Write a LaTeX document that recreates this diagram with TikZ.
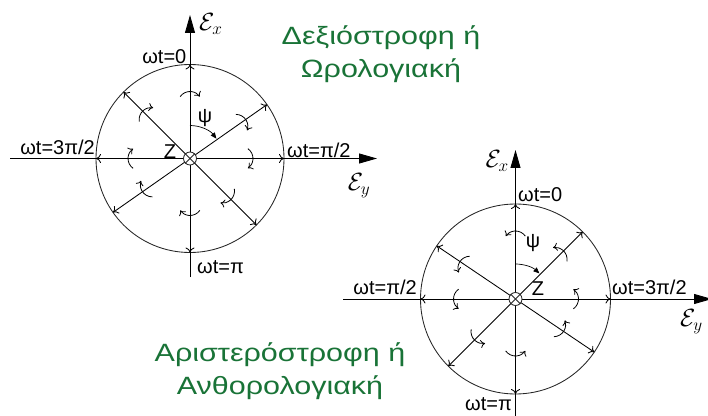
\documentclass[tikz,border=0pt]{standalone}
\usepackage{fontspec}
\setmainfont{Liberation Sans}
\usetikzlibrary{arrows.meta}
\definecolor{greentxt}{RGB}{25,115,55}
\begin{document}
\begin{tikzpicture}[x=1pt,y=1pt,
  ring/.style={line width=0.85pt, black!85},
  axisline/.style={line width=0.9pt, -{Triangle[length=18pt,width=10pt]}},
  dbl/.style={line width=0.85pt, {To[length=5pt,width=9pt]}-{To[length=5pt,width=9pt]}},
  rot/.style={line width=0.8pt, -{To[length=4.5pt,width=8pt]}},
  psiarc/.style={line width=0.7pt, -{Triangle[length=6pt,width=5pt]}},
  lbl/.style={font=\fontsize{20}{23}\selectfont, inner sep=1pt},
  ttl/.style={font=\fontsize{25}{33}\selectfont, text=greentxt, align=center, xscale=1.22},
  mth/.style={font=\fontsize{24}{28}\selectfont, inner sep=1pt}
]
\useasboundingbox (0,0) rectangle (708,415);
\clip (0,0) rectangle (708,415);
% ---------------- left diagram ----------------
\coordinate (L) at (190,256.5);
\coordinate (LW) at (10,256.5);
\coordinate (LE) at (377,256.5);
\coordinate (LS) at (190,138);
\coordinate (LN) at (190,400);
\draw[ring] (L) circle (94);
\draw[axisline] (LW) -- (LE);
\draw[axisline] (LS) -- (LN);
\begin{scope}[shift={(L)}]
  \foreach \a in {0,90,35,135}
    \draw[dbl] (\a:94) -- ({\a+180}:94);
  \foreach \a/\r in {90/67,35/68,0/63,-45/58,-90/57,-145/58,180/62,135/67}
    \draw[rot, shift={(\a:{\r-12})}] ({\a+55}:12) arc[start angle={\a+55}, end angle={\a-55}, radius=12];
  \draw[psiarc] (90:33) arc[start angle=90, end angle=37, radius=33];
\end{scope}
\node[ring, draw, fill=white, circle, minimum size=13pt, inner sep=0pt] (LC) at (L) {};
\draw[ring] (LC.north east) -- (LC.south west);
\draw[ring] (LC.north west) -- (LC.south east);
\node[lbl, anchor=east] (l0) at (187.5,358) {ωt=0};
\node[lbl, anchor=east] (l3) at (96,268) {ωt=3π/2};
\node[lbl, anchor=west] (l1) at (286,265) {ωt=π/2};
\node[lbl, anchor=west] (l2) at (196,148) {ωt=π};
\node[mth, anchor=west] (lex) at (198,391) {$\mathcal{E}_x$};
\node[mth] (ley) at (359,229) {$\mathcal{E}_y$};
\node[lbl] (lz) at (170,263) {Z};
\node[lbl] (lpsi) at (205,297) {ψ};
\node[ttl] (t1) at (381,361) {Δεξιόστροφη ή\\Ωρολογιακή};
% ---------------- right diagram ----------------
\coordinate (R) at (515.5,116);
\coordinate (RW) at (343,116);
\coordinate (RE) at (712,116);
\coordinate (RS) at (515.5,-5);
\coordinate (RN) at (515.5,265);
\draw[ring] (R) circle (95);
\draw[axisline] (RW) -- (RE);
\draw[axisline] (RS) -- (RN);
\begin{scope}[shift={(R)}]
  \foreach \a in {0,90,45,146}
    \draw[dbl] (\a:95) -- ({\a+180}:95);
  \foreach \a/\r in {90/68,45/68,0/63,-34/58,-90/57,-135/58,180/62,146/67}
    \draw[rot, shift={(\a:{\r-12})}] ({\a-55}:12) arc[start angle={\a-55}, end angle={\a+55}, radius=12];
  \draw[psiarc] (90:35) arc[start angle=90, end angle=47, radius=35];
\end{scope}
\node[ring, draw, fill=white, circle, minimum size=13pt, inner sep=0pt] (RC) at (R) {};
\draw[ring] (RC.north east) -- (RC.south west);
\draw[ring] (RC.north west) -- (RC.south east);
\node[lbl, anchor=west] (r0) at (517,220) {ωt=0};
\node[lbl, anchor=east] (r1) at (418,128) {ωt=π/2};
\node[lbl, anchor=west] (r3) at (611,128) {ωt=3π/2};
\node[lbl, anchor=east] (r2) at (513,11) {ωt=π};
\node[mth, anchor=east] (rex) at (510,254) {$\mathcal{E}_x$};
\node[mth, anchor=west] (rey) at (679,93) {$\mathcal{E}_y$};
\node[lbl] (rz) at (538,126) {Z};
\node[lbl] (rpsi) at (533,172) {ψ};
\node[ttl] (t2) at (280,44) {Αριστερόστροφη ή\\Ανθορολογιακή};
\end{tikzpicture}
\end{document}
